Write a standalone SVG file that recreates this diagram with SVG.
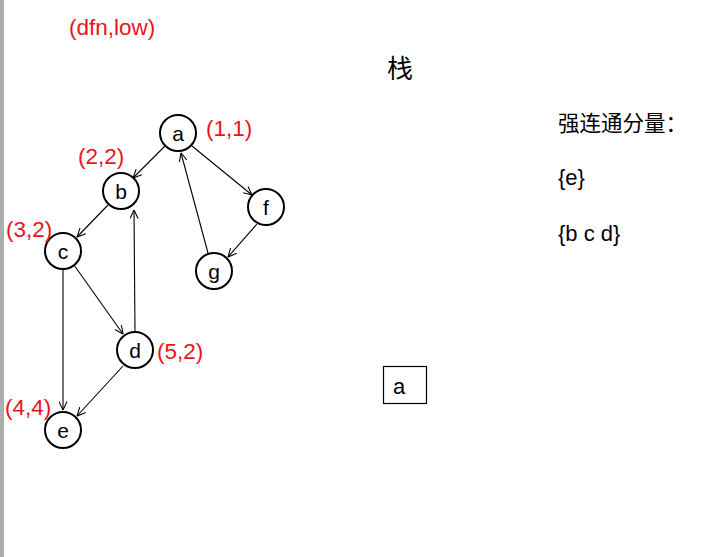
<svg xmlns="http://www.w3.org/2000/svg" width="719" height="557" viewBox="0 0 719 557">
<style>
.node circle{fill:#fff;stroke:#000;stroke-width:2}
.node text{font-family:"Liberation Sans",Arial,sans-serif;font-size:21px;fill:#000;text-anchor:middle}
.lbl{font-family:"Liberation Sans",Arial,sans-serif;font-size:22.5px;fill:#e8141c}
.edge{stroke:#000;stroke-width:1.1;fill:none;marker-end:url(#arr)}
.txt{font-family:"Liberation Sans",Arial,"Noto Sans CJK SC",sans-serif;font-size:22px;fill:#000}
</style>
<defs>
<marker id="arr" viewBox="0 0 10 10" refX="9.5" refY="5" markerWidth="9" markerHeight="9" markerUnits="userSpaceOnUse" orient="auto">
<path d="M0,0.5 L9.5,5 L0,9.5" fill="none" stroke="#000" stroke-width="1.2"/>
</marker>
</defs>
<rect width="719" height="557" fill="#fff"/>
<rect x="0" y="0" width="4" height="557" fill="#adadad"/>
<g id="connectors">
<line class="edge" x1="165" y1="146" x2="133" y2="178"/>
<line class="edge" x1="192" y1="146" x2="252" y2="195"/>
<line class="edge" x1="208" y1="253" x2="181" y2="153"/>
<line class="edge" x1="257" y1="224" x2="228" y2="257"/>
<line class="edge" x1="108" y1="205" x2="77" y2="237"/>
<line class="edge" x1="135" y1="331" x2="134" y2="210"/>
<line class="edge" x1="74" y1="265" x2="123" y2="334"/>
<line class="edge" x1="63" y1="269" x2="63" y2="410"/>
<line class="edge" x1="123" y1="366" x2="77" y2="416"/>
</g>
<g id="node-a" class="node"><circle cx="178" cy="133" r="18"/><text x="178" y="141">a</text></g>
<g id="node-b" class="node"><circle cx="121" cy="191" r="18"/><text x="121" y="199">b</text></g>
<g id="node-c" class="node"><circle cx="63" cy="251" r="18"/><text x="63" y="259">c</text></g>
<g id="node-d" class="node"><circle cx="135" cy="350" r="18"/><text x="135" y="358">d</text></g>
<g id="node-e" class="node"><circle cx="63" cy="430" r="18"/><text x="63" y="438">e</text></g>
<g id="node-f" class="node"><circle cx="266" cy="207" r="18"/><text x="266" y="215">f</text></g>
<g id="node-g" class="node"><circle cx="214" cy="271" r="18"/><text x="214" y="279">g</text></g>
<g id="labels">
<text class="lbl" x="69" y="35">(dfn,low)</text>
<text class="lbl" x="206" y="136">(1,1)</text>
<text class="lbl" x="78" y="164">(2,2)</text>
<text class="lbl" x="6" y="237">(3,2)</text>
<text class="lbl" x="157" y="359">(5,2)</text>
<text class="lbl" x="5" y="415">(4,4)</text>
</g>
<g id="stack">
<text x="400" y="78" font-family="'Noto Sans CJK SC',sans-serif" font-size="26" text-anchor="middle">栈</text>
<rect x="383.5" y="366.5" width="43" height="37" fill="#fff" stroke="#000" stroke-width="1.2"/>
<text class="txt" x="393" y="394">a</text>
</g>
<g id="scc">
<text x="558" y="131" font-family="'Noto Sans CJK SC',sans-serif" font-size="21.5">强连通分量：</text>
<text class="txt" x="558" y="185">{e}</text>
<text class="txt" x="558" y="241">{b c d}</text>
</g>
</svg>
